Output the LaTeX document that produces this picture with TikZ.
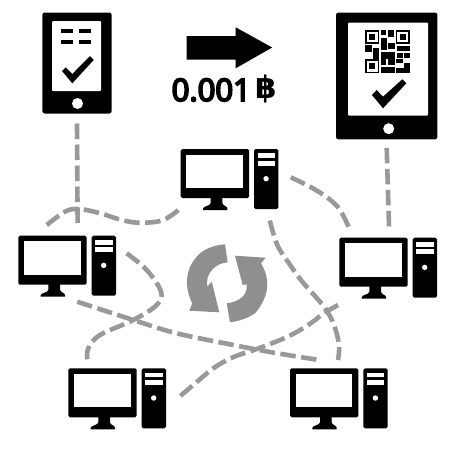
\documentclass[tikz,border=0pt]{standalone}
\usepackage{fontspec}
\usetikzlibrary{calc}
\newfontfamily\numfont[FakeBold=6]{Open Sans}
\newfontfamily\coinfont{DejaVu Sans}
\definecolor{linkgray}{HTML}{999999}
\definecolor{syncgray}{HTML}{8F8F8F}
\tikzset{
  x=1pt,y=-1pt,
  link/.style={draw=linkgray,line width=4.6pt,dash pattern=on 15.5pt off 5.5pt},
  ink/.style={fill=black,draw=none},
  blank/.style={fill=white,draw=none},
  devicebox/.style={draw=none,fill=none,inner sep=0pt,minimum width=97.7pt,minimum height=61pt,anchor=north west},
  pics/computer/.style={code={
    \fill[ink,rounded corners=1.6pt] (0,0) rectangle (68.4,49);
    \fill[blank] (5.7,5.7) rectangle (62.4,39);
    \fill[ink] (30,48) -- (41.7,48) -- (41.7,54) .. controls (42,57) and (46.7,57) .. (46.7,59.5) -- (46.7,61) -- (22.4,61) -- (22.4,59.5) .. controls (22.4,57) and (30,57) .. (30,54) -- cycle;
    \fill[ink,rounded corners=1.6pt] (73.4,0) rectangle (97.7,60);
    \fill[blank] (77,4.4) rectangle (94.4,9);
    \fill[blank] (77,11.7) rectangle (94.4,16.7);
    \fill[blank] (85.4,29.7) circle (2.7);
  }}
}
\begin{document}
\begin{tikzpicture}
\useasboundingbox (0,0) rectangle (468,450);
\fill[white] (0,0) rectangle (468,450);

% device boxes
\node[devicebox] (compT) at (180.7,149) {};
\node[devicebox] (compL) at (18.3,235.7) {};
\node[devicebox] (compR) at (339.3,237.7) {};
\node[devicebox] (compBL) at (68.3,368.3) {};
\node[devicebox] (compBR) at (290,368.3) {};
\node[draw=none,inner sep=0pt,minimum width=69pt,minimum height=100.6pt,anchor=north west] (phone) at (42.3,12.5) {};
\node[draw=none,inner sep=0pt,minimum width=101pt,minimum height=126.5pt,anchor=north west] (tablet) at (336,12.5) {};

% connector ends
\coordinate (phoneEnd) at ($(phone.south)+(0,10)$);
\coordinate (tabletEnd) at ($(tablet.south)+(0,8.5)$);
\coordinate (junctionA) at (77.6,223);
\coordinate (junctionB) at (389,227);
\coordinate (meshA) at (46.7,225);
\coordinate (meshB) at (181.7,207.3);
\coordinate (arcA) at (290.7,177.3);
\coordinate (arcB) at (349.3,228.3);
\coordinate (longA) at (269.8,220.5);
\coordinate (longB) at (338,360);
\coordinate (crossA) at (338,305);
\coordinate (crossB) at (176.7,399);
\coordinate (lowA) at (77.3,301.7);
\coordinate (lowB) at (319,360);
\coordinate (sA) at (126.7,253.3);
\coordinate (sB) at (87.3,359.3);

% connectors
\draw[link] (phoneEnd) -- (junctionA);
\draw[link] (tabletEnd) -- (junctionB);
\draw[link] plot[smooth,tension=.6] coordinates {(meshA) (65,211.7) (78.3,209) (98.3,212.7) (121.7,220) (140,222.7) (163.3,220) (meshB)};
\draw[link] plot[smooth,tension=.6] coordinates {(arcA) (310,186.7) (328.3,198.3) (340,210) (arcB)};
\draw[link] plot[smooth,tension=.6] coordinates {(longA) (277.3,245) (289,263.3) (302.3,281.7) (324,306.7) (334,325) (339,345) (longB)};
\draw[link] plot[smooth,tension=.6] coordinates {(crossA) (324,313.3) (305.7,326.7) (284,338.3) (254,350) (233.5,357) (213.3,368.3) (193.3,385) (crossB)};
\draw[link] plot[smooth,tension=.6] coordinates {(lowA) (133.3,320) (176.7,333.3) (233.5,345) (254,349) (277.3,353.3) (lowB)};
\draw[link] plot[smooth,tension=.6] coordinates {(sA) (146.7,270) (161,291.7) (156.7,305) (133.3,320) (100,335) (88.3,348.3) (sB)};

% computers
\pic at (compT.north west) {computer};
\pic at (compL.north west) {computer};
\pic at (compR.north west) {computer};
\pic at (compBL.north west) {computer};
\pic at (compBR.north west) {computer};

% phone
\fill[ink,rounded corners=2.5pt] (phone.north west) rectangle (phone.south east);
\fill[blank,rounded corners=1pt] (52,21) rectangle (101,91);
\fill[blank] (77.5,103.5) circle (5.5);
\fill[ink] (61,29) rectangle (73,33);
\fill[ink] (79,29) rectangle (91,33);
\fill[ink] (61,40) rectangle (73,44);
\fill[ink] (79,40) rectangle (91,44);
\fill[ink] (62,71) -- (65.7,67.3) -- (72.3,74) -- (90,56) -- (93.7,60) -- (72.3,83.3) -- cycle;

% tablet
\fill[ink,rounded corners=2.5pt] (tablet.north west) rectangle (tablet.south east);
\fill[blank,rounded corners=1pt] (348,22.7) rectangle (428,115.7);
\fill[blank] (388.7,128.7) circle (5.5);
\fill[ink] (372,95) -- (376.7,90) -- (383,96.7) -- (402.3,79.3) -- (406.3,83.3) -- (383,108.3) -- cycle;
% QR code
\begin{scope}[shift={(355,20)},x=0.3333pt,y=-0.3333pt]
  \foreach \qx/\qy in {30/30,122/30,30/118}{
    \fill[ink] (\qx,\qy) rectangle ++(43,42);
    \fill[blank] (\qx+5,\qy+5) rectangle ++(33,32);
    \fill[ink] (\qx+12,\qy+12) rectangle ++(19,18);
  }
  \fill[ink] (78,30) rectangle (94,46);
  \fill[ink] (100,30) rectangle (118,50);
  \fill[ink] (78,55) rectangle (95,90);
  \fill[ink] (30,76) rectangle (50,95);
  \fill[ink] (54,85) rectangle (72,116);
  \fill[ink] (100,70) rectangle (120,88);
  \fill[ink] (125,78) rectangle (165,94);
  \fill[ink] (78,95) rectangle (120,116);
  \fill[ink] (100,116) rectangle (120,135);
  \fill[ink] (125,98) rectangle (143,115);
  \fill[ink] (148,98) rectangle (165,115);
  \fill[ink] (122,118) rectangle (143,128);
  \fill[ink] (78,118) rectangle (92,135);
  \fill[ink] (78,140) rectangle (120,160);
  \fill[ink] (122,145) rectangle (165,160);
  \fill[ink] (148,130) rectangle (165,145);
\end{scope}

% payment arrow
\fill[ink] (186.5,36.2) -- (235.7,36.2) -- (235.7,27.3) -- (272.2,47.5) -- (235.7,68.3) -- (235.7,59.5) -- (186.5,59.5) -- cycle;
\node[anchor=base west,inner sep=0pt,font=\numfont\fontsize{31}{31}\selectfont] (amount) at (171.5,101) {0.001};
\node[anchor=base west,inner sep=0pt,font=\coinfont\bfseries\fontsize{31}{31}\selectfont] (coin) at (255,98) {฿};

% sync symbol
\fill[syncgray] (225,244.3) -- (227.7,262.3) .. controls (215,263) and (205,274) .. (207.3,286.7) -- (211.7,281.7) -- (219.3,312.3) -- (189.3,310.7) -- (192.3,303.3) .. controls (183,285) and (186,266) .. (200,253.3) .. controls (207,248) and (215,245) .. (225,244.3) -- cycle;
\fill[syncgray] (230,322.3) -- (226.7,303.3) .. controls (238,302) and (248,296) .. (246.7,284.3) -- (242.7,285) -- (235,255.7) -- (265.7,257.7) -- (261,263.3) .. controls (271,280) and (269,297) .. (255,313.3) .. controls (248,318) and (240,321) .. (230,322.3) -- cycle;
\end{tikzpicture}
\end{document}
